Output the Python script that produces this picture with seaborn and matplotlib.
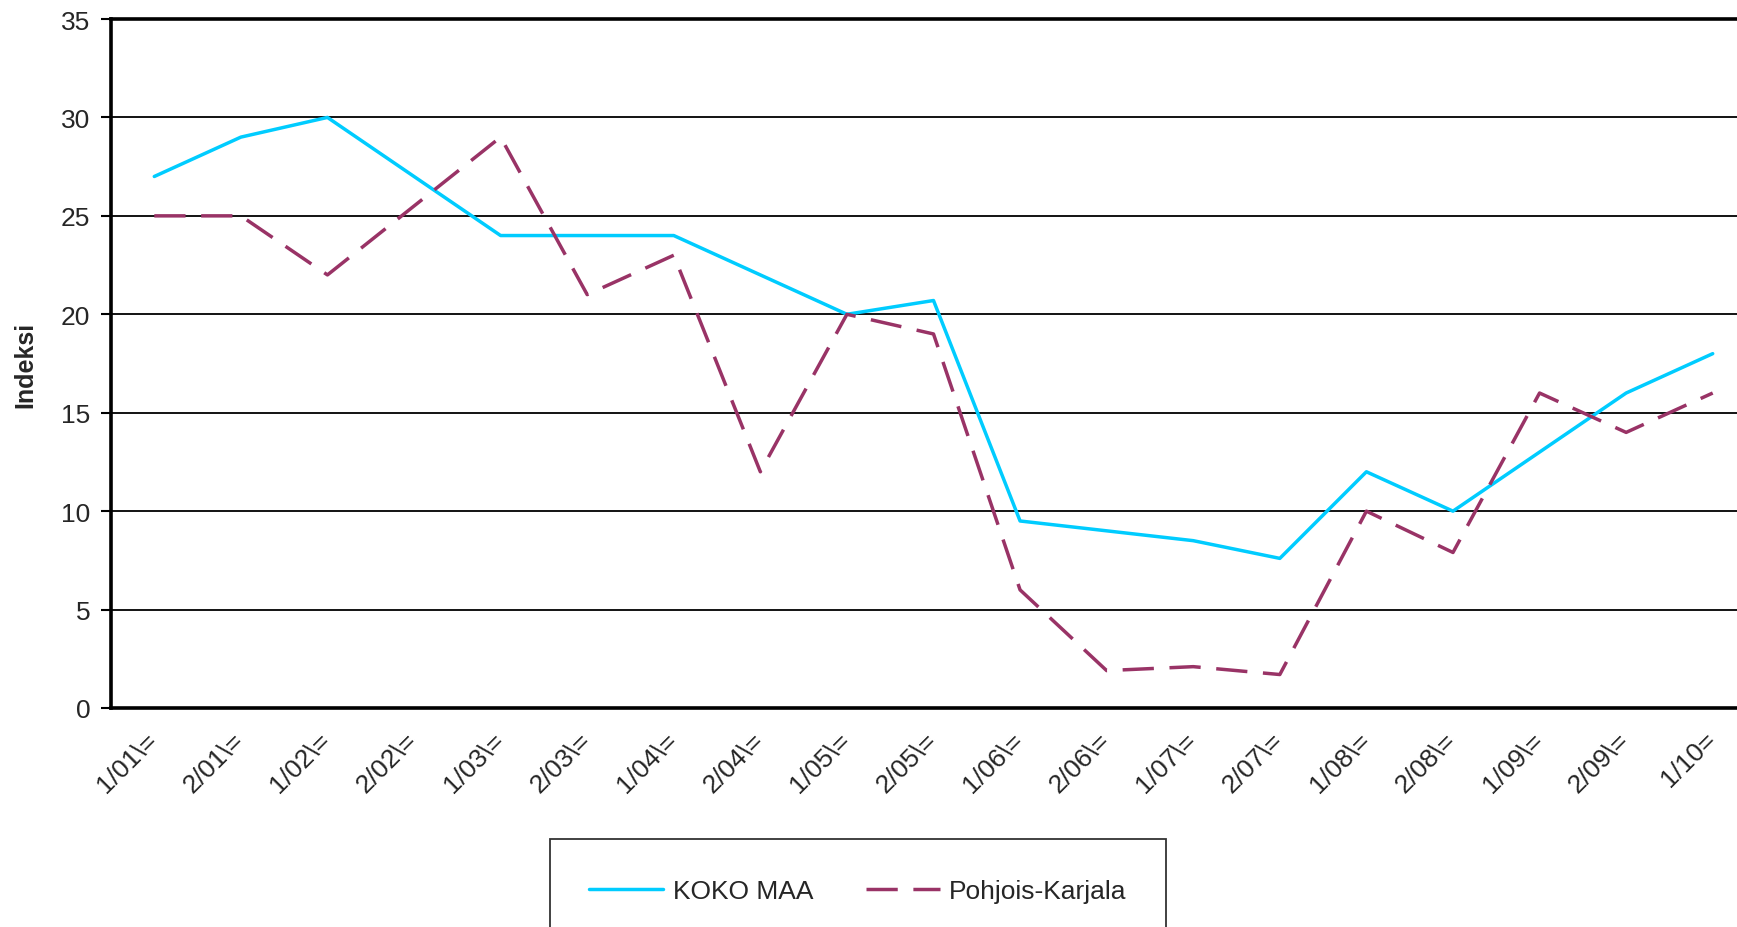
import numpy as np
import pandas as pd
import matplotlib
matplotlib.use("Agg")
import matplotlib.pyplot as plt
import matplotlib.transforms as mtransforms
import seaborn as sns

sns.set_style("white")
plt.rcParams['font.family'] = ['Liberation Sans', 'DejaVu Sans']

# Data
periods = ['1/01\\=', '2/01\\=', '1/02\\=', '2/02\\=', '1/03\\=', '2/03\\=', '1/04\\=',
           '2/04\\=', '1/05\\=', '2/05\\=', '1/06\\=', '2/06\\=', '1/07\\=', '2/07\\=',
           '1/08\\=', '2/08\\=', '1/09\\=', '2/09\\=', '1/10=']
koko_maa = [27, 29, 30, 27, 24, 24, 24, 22, 20, 20.7, 9.5, 9, 8.5, 7.6, 12, 10, 13, 16, 18]
pohjois_karjala = [25, 25, 22, 25.5, 29, 21, 23, 12, 20, 19, 6, 1.9, 2.1, 1.7, 10, 7.9, 16, 14, 16]

series_names = ['KOKO MAA', 'Pohjois-Karjala']
colors = {'KOKO MAA': '#00CCFF', 'Pohjois-Karjala': '#993366'}

df = pd.DataFrame({
    'period': periods * 2,
    'pos': list(range(len(periods))) * 2,
    'value': koko_maa + pohjois_karjala,
    'series': [series_names[0]] * len(periods) + [series_names[1]] * len(periods),
})

fig = plt.figure(figsize=(17.37, 9.28), dpi=100)
# axes spans past right edge (reference is cropped there)
ax = fig.add_axes([111 / 1737, 1 - 709 / 928, (1756 - 111) / 1737, (709 - 20) / 928])

lw = 2.5
sns.lineplot(data=df, x='pos', y='value', hue='series', style='series',
             hue_order=series_names, style_order=series_names,
             palette=colors, dashes={'KOKO MAA': '', 'Pohjois-Karjala': (9, 4.5)},
             linewidth=lw, ax=ax, legend=False)

ax.set_xlim(-0.5, len(periods) - 0.5)
ax.set_ylim(0, 35)
ax.set_yticks(np.arange(0, 36, 5))
ax.set_xticks(range(len(periods)))
ax.set_xticklabels(periods, rotation=45, ha='right', rotation_mode='anchor', fontsize=19)
ax.tick_params(axis='y', labelsize=19, length=7, width=1.5, direction='out', pad=8, left=True, color='black')
ax.tick_params(axis='x', length=0, pad=15)
# nudge rotated labels so their ends sit under the category point
shift = mtransforms.ScaledTranslation(-9 / 100, 2 / 100, fig.dpi_scale_trans)
for lab in ax.get_xticklabels():
    lab.set_transform(lab.get_transform() + shift)
ax.grid(axis='y', color='black', linewidth=1.3)
ax.set_axisbelow(True)
ax.set_xlabel('')
ax.set_ylabel('Indeksi', fontsize=18, fontweight='bold', labelpad=17)

for side in ['left', 'bottom', 'top']:
    ax.spines[side].set_linewidth(2.6)
    ax.spines[side].set_color('black')
ax.spines['right'].set_visible(False)

handles = [plt.Line2D([], [], color=colors['KOKO MAA'], linewidth=lw),
           plt.Line2D([], [], color=colors['Pohjois-Karjala'], linewidth=lw, dashes=(9, 4.5))]
leg = fig.legend(handles, series_names, loc='center', ncol=2,
                 bbox_to_anchor=(858 / 1737, 1 - 892 / 928), fontsize=19,
                 frameon=True, fancybox=False, edgecolor='black', borderpad=1.5,
                 handlelength=2.8, columnspacing=2.0, handletextpad=0.35,
                 borderaxespad=0)
leg.get_frame().set_linewidth(1.3)

fig.savefig('out.png', dpi=100)
